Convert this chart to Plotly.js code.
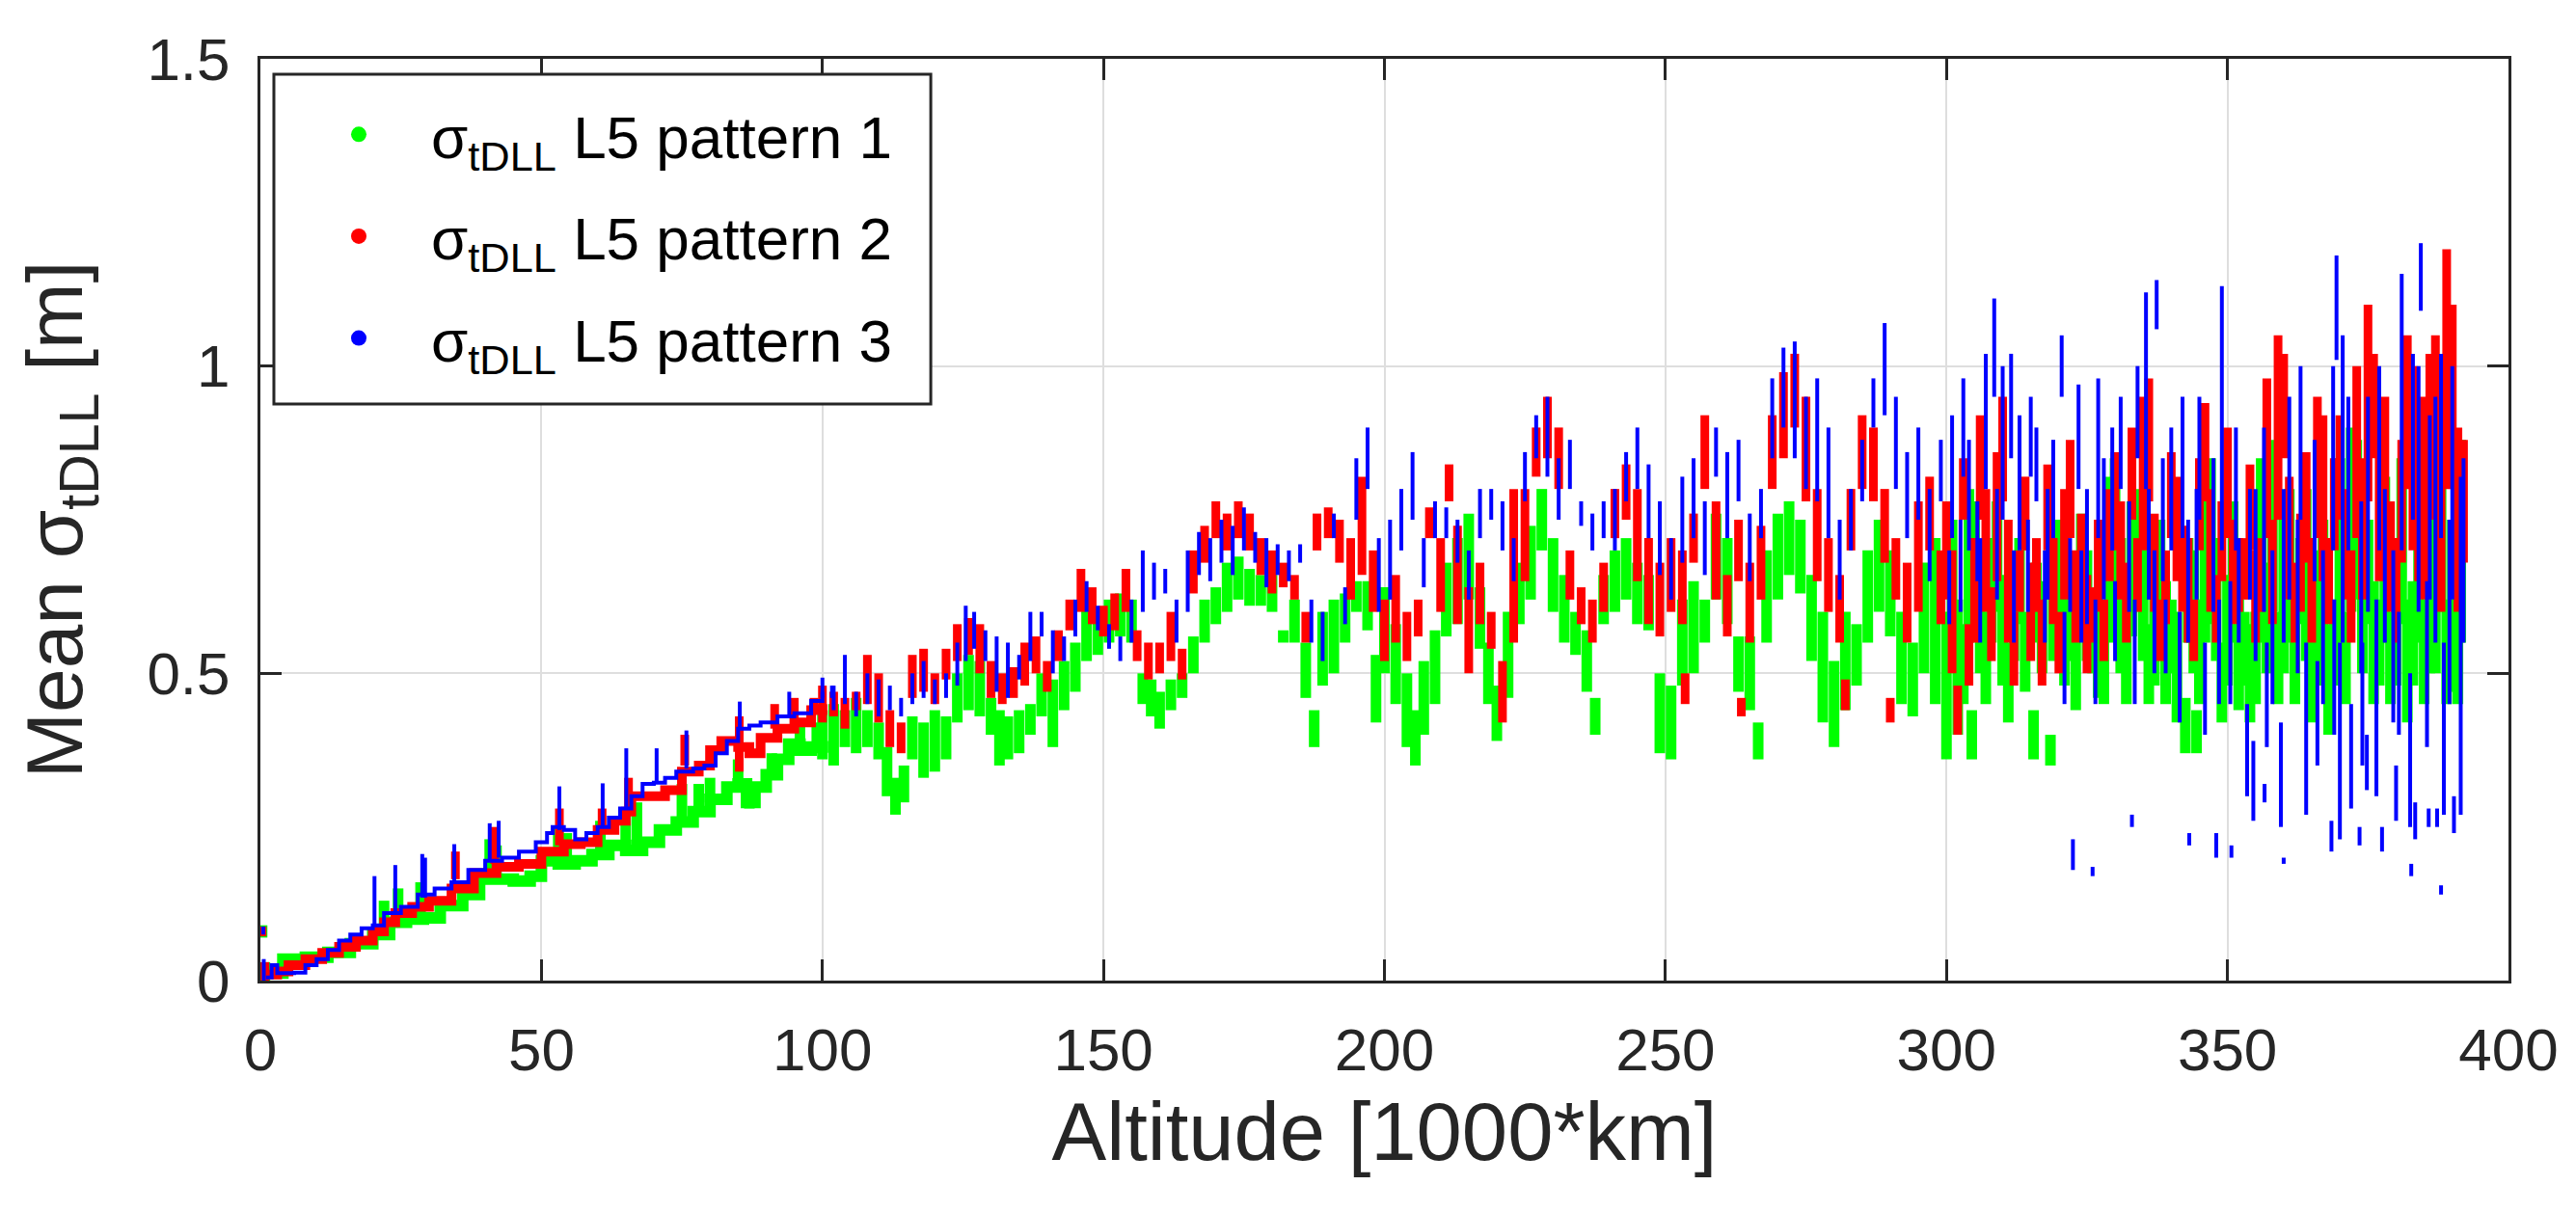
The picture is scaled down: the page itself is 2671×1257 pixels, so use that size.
<!DOCTYPE html>
<html>
<head>
<meta charset="utf-8">
<script src="https://cdn.plot.ly/plotly-3.0.1.min.js"></script>
<style>html,body{margin:0;padding:0;background:#fff;}#chart{width:2671px;height:1257px;}</style>
</head>
<body>
<div id="chart"></div>
<script>
// ---- axis ticks ----
const xTicks = [0, 50, 100, 150, 200, 250, 300, 350, 400];
const xTickLabels = ['0', '50', '100', '150', '200', '250', '300', '350', '400'];
const yTicks = [0, 0.5, 1, 1.5];
const yTickLabels = ['0', '0.5', '1', '1.5'];

// ---- series names ----
const seriesNames = ['σ<sub>tDLL</sub> L5 pattern 1', 'σ<sub>tDLL</sub> L5 pattern 2', 'σ<sub>tDLL</sub> L5 pattern 3'];

// ---- pattern 1 (green): low-altitude ramp ----
const greenRampX = [1,3,4,8,12,16,20,23,26,29,32,36,39,42,45,48,50,53,56,59,62,65,68,71,74,77,80,83,85,86.5,88,90,92,94,96,98,100];
const greenRampY = [0.012,0.012,0.035,0.038,0.046,0.06,0.075,0.095,0.1,0.102,0.122,0.14,0.165,0.165,0.162,0.17,0.195,0.19,0.195,0.205,0.22,0.212,0.225,0.245,0.258,0.275,0.295,0.315,0.32,0.29,0.315,0.335,0.36,0.385,0.375,0.38,0.39];
// vertical spreads [altitude, low, high]
const greenBars = [
 [0.3,0.07,0.09],[0.8,0.0,0.03],[22,0.08,0.13],[24.5,0.1,0.15],[28.5,0.1,0.16],[40.8,0.17,0.23],[42,0.17,0.22],[53,0.19,0.25],[54.5,0.19,0.24],[60.5,0.2,0.26],[65,0.21,0.27],[67,0.22,0.29],[75,0.26,0.32],[78,0.28,0.32],[80,0.29,0.33],[85,0.32,0.36],[87,0.28,0.32],[91,0.33,0.37],[96,0.37,0.42],[99,0.37,0.42],
 [100,0.36,0.44],[102,0.35,0.45],[104,0.38,0.44],[106,0.37,0.46],[108,0.38,0.44],[110,0.36,0.42],[111.5,0.30,0.38],[113,0.27,0.33],[114.5,0.29,0.35],[116,0.36,0.43],[118,0.33,0.42],[120,0.34,0.44],[122,0.36,0.43],[124,0.42,0.50],[126,0.44,0.53],[128,0.43,0.52],[130,0.40,0.46],[131.5,0.35,0.44],[133,0.36,0.43],[135,0.37,0.44],[137,0.40,0.45],[139,0.43,0.50],[141,0.38,0.49],[143,0.44,0.52],[145,0.47,0.55],[147,0.52,0.62],[149,0.53,0.60],[151,0.55,0.62],[153,0.56,0.63],[155,0.55,0.62],[157,0.45,0.50],[158.5,0.43,0.49],[160,0.41,0.47],[162,0.44,0.49],[164,0.46,0.50],[166,0.50,0.56],[168,0.55,0.62],[170,0.58,0.64],[172,0.60,0.68],[174,0.62,0.69],[176,0.61,0.67],[178,0.61,0.66],[180,0.60,0.66],[182,0.55,0.57],[184,0.55,0.62],[186,0.46,0.55],[187.5,0.38,0.44],[189,0.48,0.60],[191,0.50,0.62],[193,0.55,0.63],[195,0.60,0.65],[197,0.57,0.65],[198.5,0.42,0.53],
 [200,0.50,0.64],[202,0.45,0.58],[204,0.38,0.50],[205.5,0.35,0.44],[207,0.40,0.52],[209,0.45,0.57],[211,0.56,0.68],[213,0.58,0.72],[215,0.62,0.76],[217,0.54,0.64],[218.5,0.45,0.55],[220,0.39,0.48],[222,0.46,0.60],[224,0.58,0.68],[226,0.62,0.74],[228,0.70,0.80],[230,0.60,0.72],[232,0.55,0.66],[234,0.53,0.60],[236,0.47,0.57],[237.5,0.40,0.46],[239,0.58,0.66],[241,0.60,0.70],[243,0.62,0.72],[245,0.58,0.68],[247,0.57,0.66],[249,0.37,0.50],[251,0.36,0.48],[253,0.48,0.62],[255,0.50,0.65],[257,0.55,0.62],[259,0.62,0.76],[261,0.58,0.72],[263,0.47,0.56],[265,0.44,0.56],[266.5,0.36,0.42],[268,0.55,0.70],[270,0.62,0.76],[272,0.66,0.78],[274,0.63,0.75],[276,0.52,0.66],[278,0.42,0.60],[280,0.38,0.52],[282,0.44,0.60],[284,0.48,0.58],[286,0.55,0.70],[288,0.60,0.75],[290,0.56,0.70],[292,0.45,0.60],[294,0.43,0.55],[296,0.50,0.68],[298,0.45,0.72],[300,0.36,0.60],
 [302,0.40,0.62],[304,0.55,0.80],[304.5,0.36,0.44],[306,0.50,0.70],[308,0.55,0.72],[310,0.48,0.66],[312,0.52,0.70],[314,0.47,0.60],[315.5,0.36,0.44],[317,0.50,0.65],[318.5,0.35,0.40],[319,0.52,0.68],[321,0.48,0.70],[323,0.44,0.62],[325,0.52,0.70],[327,0.46,0.62],[329,0.55,0.82],[331,0.50,0.72],[333,0.56,0.78],[335,0.52,0.74],[337,0.48,0.68],[339,0.45,0.65],[341,0.42,0.60],[342.5,0.37,0.46],[344,0.50,0.70],[344.5,0.37,0.44],[346,0.55,0.80],[348,0.52,0.72],[350,0.48,0.66],[352,0.44,0.62],[354,0.42,0.58],[356,0.55,0.85],[358,0.60,0.88],[360,0.50,0.75],[362,0.45,0.62],[364,0.52,0.80],[366,0.48,0.70],[368,0.40,0.58],[370,0.55,0.85],[372,0.60,0.90],[374,0.50,0.70],[376,0.45,0.65],[378,0.55,0.82],[380,0.48,0.70],[382,0.42,0.62],[384,0.55,0.88],[386,0.50,0.80],[388,0.60,0.95],[390,0.47,0.75],[391.5,0.55,0.88],
 [301,0.55,0.75],[303,0.45,0.58],[305,0.62,0.78],[307,0.45,0.60],[309,0.60,0.78],[311,0.42,0.55],[313,0.58,0.72],[316,0.55,0.68],[320,0.58,0.75],[322,0.52,0.62],[324,0.58,0.76],[326,0.50,0.60],[328,0.45,0.56],[330,0.60,0.85],[332,0.45,0.62],[334,0.62,0.80],[336,0.45,0.58],[338,0.55,0.75],[340,0.50,0.62],[343,0.55,0.72],[345,0.45,0.62],[347,0.58,0.85],[349,0.42,0.55],[351,0.55,0.78],[353,0.48,0.60],[355,0.45,0.60],[357,0.50,0.68],[359,0.45,0.60],[361,0.55,0.80],[363,0.58,0.72],[365,0.42,0.60],[367,0.55,0.75],[369,0.48,0.62],[371,0.45,0.60],[373,0.62,0.88],[375,0.58,0.75],[377,0.48,0.62],[379,0.45,0.60],[381,0.58,0.85],[383,0.48,0.65],[385,0.45,0.62],[387,0.50,0.75],[389,0.45,0.62],[391,0.45,0.65]
];

// ---- pattern 2 (red) ----
const redRampX = [1,3,5,8,11,14,17,20,22,24,27,30,34,38,42,46,50,54,57,60,63,65,66,69,72,75,78,80,82,85,87,89,92,95,98,100];
const redRampY = [0.01,0.015,0.025,0.035,0.045,0.055,0.065,0.08,0.095,0.11,0.12,0.13,0.15,0.175,0.185,0.19,0.21,0.222,0.225,0.245,0.26,0.275,0.3,0.3,0.31,0.34,0.35,0.375,0.39,0.38,0.37,0.395,0.41,0.42,0.44,0.45];
const redBars = [
 [0.3,0.072,0.088],[0.8,0.0,0.03],[34.7,0.165,0.21],[41.7,0.19,0.25],[53.2,0.22,0.28],[60.8,0.25,0.28],[65.5,0.27,0.33],[75.5,0.35,0.4],[85.2,0.34,0.43],[91.5,0.41,0.45],[95,0.42,0.46],[98.5,0.44,0.46],
 [100,0.42,0.48],[102,0.43,0.47],[104,0.41,0.46],[106,0.44,0.47],[108,0.45,0.53],[110,0.42,0.50],[112,0.38,0.44],[114,0.37,0.42],[116,0.46,0.53],[118,0.47,0.54],[120,0.45,0.50],[122,0.49,0.54],[124,0.52,0.58],[126,0.53,0.59],[128,0.50,0.58],[130,0.46,0.52],[132,0.45,0.50],[134,0.46,0.51],[136,0.48,0.55],[138,0.50,0.56],[140,0.47,0.52],[142,0.52,0.57],[144,0.57,0.62],[146,0.60,0.67],[148,0.58,0.64],[150,0.56,0.61],[152,0.57,0.63],[154,0.60,0.67],[156,0.52,0.57],[158,0.49,0.55],[160,0.50,0.55],[162,0.52,0.60],[164,0.49,0.54],[166,0.63,0.70],[168,0.68,0.74],[170,0.72,0.78],[172,0.70,0.76],[174,0.72,0.78],[176,0.70,0.76],[178,0.66,0.72],[180,0.63,0.70],[182,0.64,0.68],[184,0.62,0.66],[186,0.55,0.60],[188,0.70,0.76],[190,0.72,0.77],[192,0.68,0.75],[194,0.62,0.72],[196,0.66,0.82],[198,0.60,0.70],
 [200,0.52,0.62],[202,0.55,0.66],[204,0.52,0.60],[206,0.56,0.62],[208,0.72,0.77],[210,0.60,0.72],[211.5,0.78,0.84],[213,0.58,0.74],[215,0.50,0.64],[217,0.58,0.68],[219,0.54,0.60],[221,0.42,0.52],[223,0.55,0.80],[225,0.65,0.80],[227,0.82,0.90],[229,0.85,0.95],[231,0.80,0.90],[233,0.62,0.70],[235,0.58,0.64],[237,0.55,0.62],[239,0.60,0.68],[241,0.72,0.80],[243,0.75,0.84],[245,0.65,0.80],[247,0.58,0.72],[249,0.56,0.68],[251,0.60,0.72],[253,0.58,0.70],[253.5,0.45,0.50],[255,0.68,0.76],[257,0.80,0.92],[259,0.62,0.78],[261,0.56,0.66],[263,0.65,0.75],[263.5,0.43,0.46],[265,0.55,0.68],[267,0.62,0.74],[269,0.80,0.92],[271,0.85,0.99],[273,0.90,1.02],[275,0.78,0.95],[277,0.65,0.80],[279,0.60,0.72],[281,0.55,0.66],[282,0.44,0.49],[283,0.70,0.80],[285,0.80,0.92],[287,0.78,0.90],[289,0.68,0.80],[290,0.42,0.46],[291,0.62,0.72],[293,0.55,0.68],[295,0.60,0.78],[297,0.70,0.82],[299,0.58,0.70],
 [301,0.50,0.70],[302,0.40,0.48],[303,0.75,0.85],[305,0.55,0.72],[307,0.60,0.80],[309,0.65,0.86],[311,0.55,0.75],[313,0.60,0.70],[315,0.52,0.68],[317,0.48,0.62],[319,0.58,0.72],[321,0.62,0.80],[323,0.55,0.70],[325,0.50,0.66],[327,0.60,0.75],[329,0.65,0.80],[331,0.62,0.78],[333,0.75,0.90],[335,0.70,0.95],[337,0.60,0.76],[339,0.58,0.70],[341,0.65,0.82],[343,0.55,0.72],[345,0.70,0.85],[347,0.60,0.80],[349,0.65,0.78],[351,0.58,0.75],[353,0.62,0.72],[355,0.55,0.70],[357,0.72,0.98],[359,0.75,1.05],[361,0.62,0.82],[363,0.60,0.76],[365,0.55,0.72],[367,0.65,0.92],[369,0.70,0.85],[371,0.62,0.80],[373,0.72,1.00],[375,0.78,1.10],[377,0.65,0.90],[379,0.60,0.78],[381,0.68,0.88],[383,0.70,1.00],[385,0.62,0.95],[387,0.75,1.05],[389,0.80,1.19],[391,0.60,0.90],
 [300,0.62,0.78],[304,0.48,0.58],[306,0.75,0.92],[308,0.52,0.64],[310,0.78,0.95],[312,0.48,0.60],[314,0.70,0.82],[316,0.60,0.72],[318,0.70,0.84],[320,0.50,0.60],[322,0.72,0.88],[324,0.62,0.76],[326,0.55,0.64],[328,0.52,0.62],[330,0.70,0.86],[332,0.55,0.68],[334,0.60,0.72],[336,0.78,0.98],[338,0.52,0.62],[340,0.72,0.86],[342,0.60,0.74],[344,0.52,0.62],[346,0.78,0.94],[348,0.55,0.66],[350,0.72,0.90],[352,0.60,0.72],[354,0.70,0.84],[356,0.60,0.72],[358,0.58,0.75],[360,0.85,1.02],[362,0.55,0.68],[364,0.68,0.86],[366,0.72,0.95],[368,0.58,0.72],[370,0.75,0.92],[372,0.55,0.70],[374,0.62,0.85],[376,0.85,1.02],[378,0.70,0.95],[380,0.55,0.72],[382,0.80,1.05],[384,0.65,0.80],[386,0.80,1.02],[388,0.60,0.85],[390,0.85,1.10],[392,0.68,0.88]
];

// ---- pattern 3 (blue) ----
const blueRampX = [1,2,3,6,8,10,12,14,16,18,20,22,25,28,31,34,37,40,43,46,49,51,52,54,56,58,60,62,64,66,68,70,72,74,77,79,81,83,85,87,89,92,95,98,100];
const blueRampY = [0.005,0.025,0.012,0.013,0.025,0.035,0.05,0.065,0.075,0.085,0.09,0.11,0.12,0.14,0.15,0.16,0.18,0.195,0.2,0.21,0.225,0.24,0.25,0.245,0.23,0.24,0.25,0.265,0.28,0.3,0.32,0.322,0.33,0.34,0.345,0.35,0.37,0.39,0.41,0.415,0.42,0.43,0.435,0.455,0.47];
const blueBars = [
 [0.5,0.075,0.088],[0.6,0.0,0.035],[20.3,0.09,0.17],[24,0.11,0.188],[28.8,0.135,0.206],[29.3,0.135,0.2],[34.5,0.16,0.222],[40.8,0.195,0.256],[42.4,0.2,0.26],[53.2,0.245,0.316],[60.9,0.25,0.321],[65.1,0.28,0.378],[70.5,0.322,0.378],[75.8,0.345,0.407],[85.3,0.41,0.454],[94.1,0.43,0.47],[100,0.46,0.493],
 [101.7,0.46,0.48],[102,0.44,0.48],[104,0.45,0.53],[106,0.43,0.47],[108,0.45,0.50],[110,0.43,0.49],[112,0.44,0.48],[114,0.43,0.46],[116,0.45,0.50],[118,0.46,0.52],[120,0.45,0.49],[122,0.46,0.50],[124,0.48,0.55],[125.5,0.52,0.61],[127,0.54,0.60],[129,0.52,0.57],[131,0.47,0.56],[133,0.46,0.55],[135,0.49,0.53],[137,0.52,0.60],[139,0.56,0.60],[141,0.50,0.57],[143,0.52,0.56],[145,0.56,0.62],[147,0.60,0.65],[149,0.57,0.61],[151,0.54,0.58],[153,0.52,0.56],[155,0.55,0.62],[157,0.60,0.70],[159,0.62,0.68],[161,0.63,0.67],[163,0.55,0.62],[165,0.60,0.70],[167,0.66,0.73],[169,0.65,0.72],[171,0.68,0.75],[173,0.66,0.74],[175,0.70,0.77],[177,0.68,0.73],[179,0.64,0.72],[181,0.66,0.71],[183,0.65,0.70],[185,0.68,0.71],[187,0.55,0.62],[189,0.52,0.60],[191,0.72,0.76],[193,0.58,0.64],[195,0.75,0.85],[197,0.80,0.90],[199,0.60,0.72],
 [201,0.62,0.75],[203,0.70,0.80],[205,0.75,0.86],[207,0.64,0.72],[209,0.72,0.78],[211,0.72,0.77],[213,0.68,0.75],[215,0.62,0.70],[217,0.72,0.80],[219,0.75,0.80],[221,0.70,0.78],[223,0.65,0.72],[225,0.78,0.86],[227,0.85,0.92],[229,0.82,0.95],[231,0.75,0.85],[233,0.80,0.88],[235,0.74,0.78],[237,0.70,0.76],[239,0.72,0.78],[241,0.70,0.80],[243,0.78,0.86],[245,0.80,0.90],[247,0.72,0.84],[249,0.66,0.78],[251,0.62,0.72],[253,0.68,0.82],[255,0.72,0.85],[257,0.66,0.78],[259,0.82,0.90],[261,0.72,0.86],[263,0.78,0.88],[265,0.65,0.76],[267,0.72,0.80],[269,0.85,0.98],[271,0.90,1.03],[273,0.85,1.04],[275,0.80,0.95],[277,0.78,0.98],[279,0.72,0.90],[281,0.62,0.75],[283,0.70,0.80],[285,0.78,0.88],[287,0.90,0.98],[289,0.92,1.07],[291,0.80,0.95],[293,0.72,0.86],[295,0.75,0.90],[297,0.65,0.80],[299,0.78,0.88],
 [301,0.72,0.92],[302.5,0.60,0.75],[304,0.70,0.88],[305.5,0.65,0.78],[307,0.80,1.02],[308.5,0.95,1.11],[310,0.75,1.00],[311.5,0.85,1.02],[313,0.70,0.92],[314.5,0.60,0.75],[316,0.78,0.90],[317.5,0.55,0.70],[319,0.72,0.88],[320.5,0.95,1.05],[322,0.60,0.72],[322.5,0.18,0.23],[323.5,0.80,0.97],[325,0.58,0.80],[326,0.17,0.185],[326.5,0.45,0.62],[328,0.62,0.85],[329.5,0.70,0.90],[331,0.80,0.95],[332.5,0.60,0.78],[333,0.25,0.27],[334,0.85,1.00],[335.5,0.80,1.12],[337,0.50,0.70],[337.4,1.06,1.14],[338.5,0.65,0.85],[340,0.70,0.90],[341.5,0.42,0.60],[343,0.55,0.75],[343.2,0.22,0.24],[344.5,0.62,0.80],[346,0.40,0.55],[347.5,0.60,0.85],[348,0.20,0.24],[349,0.70,1.13],[350.5,0.45,0.65],[350.7,0.20,0.22],[352,0.55,0.72],[353.5,0.30,0.45],[354.6,0.26,0.39],[355,0.52,0.80],[356.5,0.60,0.90],[356.6,0.29,0.32],[358,0.45,0.70],[359.5,0.25,0.42],[360,0.19,0.20],[361,0.62,0.95],[362.5,0.50,0.75],[364,0.27,0.55],[365.5,0.65,0.88],[367,0.45,0.70],[368.5,0.21,0.26],[368.8,0.70,1.00],[369.4,1.01,1.18],[370,0.23,0.55],[370.5,0.55,1.05],[372,0.28,0.45],[373.5,0.22,0.25],[373.8,0.50,0.78],[374.8,0.31,0.40],[375,0.60,0.95],[376.5,0.30,0.62],[377.5,0.21,0.25],[378,0.55,0.80],[379.5,0.42,0.70],[380,0.26,0.35],[381,0.70,1.15],[382.5,0.25,0.50],[382.7,0.17,0.19],[383.4,0.23,0.29],[384,0.60,1.00],[384.4,1.09,1.20],[385.5,0.38,0.65],[385.8,0.25,0.28],[387,0.55,0.95],[387.3,0.25,0.28],[388,0.14,0.155],[388.5,0.27,0.55],[390,0.62,1.00],[390.3,0.24,0.30],[391.5,0.27,0.82],
 [300.5,0.58,0.70],[303,0.82,0.98],[306,0.55,0.72],[309,0.62,0.80],[312,0.55,0.70],[315,0.82,0.95],[318,0.62,0.80],[321,0.45,0.60],[324,0.55,0.70],[327,0.72,0.98],[330,0.52,0.65],[333.5,0.45,0.62],[336,0.62,0.80],[339,0.50,0.62],[342,0.72,0.95],[345,0.75,0.95],[348.5,0.45,0.62],[351.5,0.70,0.90],[354,0.62,0.80],[357,0.38,0.55],[360,0.55,0.80],[363,0.75,1.00],[366,0.35,0.52],[369,0.40,0.62],[371.5,0.70,0.95],[374,0.35,0.55],[377,0.70,1.00],[380.5,0.40,0.60],[383,0.75,1.02],[386,0.62,0.92],[388,0.72,1.02],[389.5,0.45,0.75],[392,0.55,0.85]
];

// ---- colours ----
const seriesColors = ['#00ff00', '#ff0000', '#0000ff'];

function barTrace(rows, color, width) {
  const x = [], y = [];
  rows.forEach(r => { x.push(r[0], r[0], null); y.push(r[1], r[2], null); });
  return { type: 'scatter', mode: 'lines', x: x, y: y, showlegend: false, hoverinfo: 'skip',
           line: { color: color, width: width }, connectgaps: false };
}
function rampTrace(xs, ys, color, width) {
  return { type: 'scatter', mode: 'lines', x: xs, y: ys, showlegend: false, hoverinfo: 'skip',
           line: { color: color, width: width, shape: 'hv' } };
}
function legendTrace(name, color, grp) {
  return { type: 'scatter', mode: 'markers', x: [null], y: [null], name: name, legendgroup: grp,
           showlegend: true, marker: { color: color, size: 24 } };
}

const data = [
  legendTrace(seriesNames[0], seriesColors[0], 'g1'),
  legendTrace(seriesNames[1], seriesColors[1], 'g2'),
  legendTrace(seriesNames[2], seriesColors[2], 'g3'),
  rampTrace(greenRampX, greenRampY, seriesColors[0], 12),
  barTrace(greenBars, seriesColors[0], 11),
  rampTrace(redRampX, redRampY, seriesColors[1], 10),
  barTrace(redBars, seriesColors[1], 9),
  rampTrace(blueRampX, blueRampY, seriesColors[2], 4),
  barTrace(blueBars, seriesColors[2], 4)
];

const axisCommon = {
  ticks: 'inside', ticklen: 22, tickwidth: 3, tickcolor: '#262626',
  showline: true, linecolor: '#262626', linewidth: 3, mirror: 'ticks',
  showgrid: true, gridcolor: '#dedede', gridwidth: 2, zeroline: false,
  tickfont: { size: 62, color: '#262626' }
};

const layout = {
  width: 2671, height: 1257,
  margin: { l: 270, r: 70, t: 61, b: 240 },
  paper_bgcolor: '#ffffff', plot_bgcolor: '#ffffff',
  font: { family: 'Liberation Sans, Arial, sans-serif', color: '#262626', size: 62 },
  showlegend: true,
  legend: {
    x: 0.006, y: 0.967, xanchor: 'left', yanchor: 'top',
    bgcolor: 'rgba(0,0,0,0)', borderwidth: 0,
    font: { size: 62, color: '#000000' }, tracegroupgap: 22,
    itemwidth: 140, indentation: 13
  },
  shapes: [{
    type: 'rect', xref: 'paper', yref: 'paper', layer: 'above',
    x0: 0.006, x1: 0.2982, y0: 0.6255, y1: 0.9833,
    fillcolor: '#ffffff', line: { color: '#262626', width: 3 }
  }],
  xaxis: Object.assign({}, axisCommon, {
    range: [0, 400], tickmode: 'array', tickvals: xTicks, ticktext: xTickLabels,
    ticklabelstandoff: 16,
    title: { text: 'Altitude [1000*km]', font: { size: 85, color: '#262626' }, standoff: 22 }
  }),
  yaxis: Object.assign({}, axisCommon, {
    range: [0, 1.5], tickmode: 'array', tickvals: yTicks, ticktext: yTickLabels,
    ticklabelstandoff: 16,
    title: { text: 'Mean σ<sub>tDLL</sub> [m]', font: { size: 82, color: '#262626' }, standoff: 40 }
  })
};

Plotly.newPlot('chart', data, layout, { displayModeBar: false, staticPlot: true });
</script>
</body>
</html>
